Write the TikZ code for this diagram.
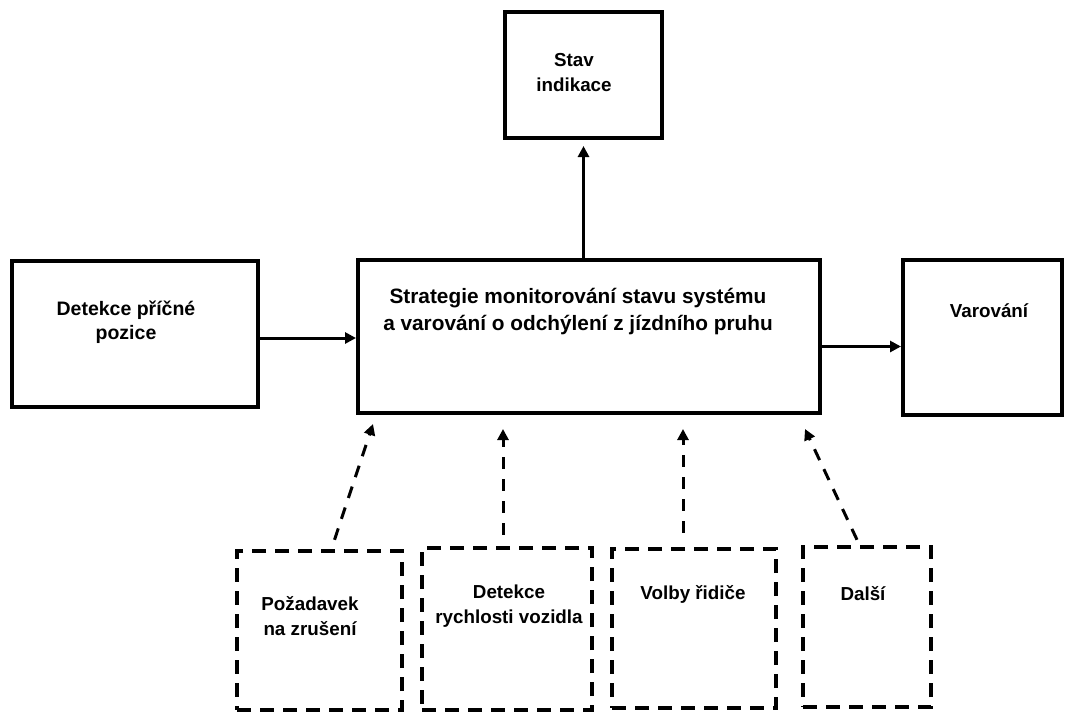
\documentclass[tikz,border=0pt]{standalone}
\usepackage{fontspec}
\setmainfont{Liberation Sans}
\usetikzlibrary{arrows.meta}
\begin{document}
\begin{tikzpicture}[x=1pt,y=-1pt,
  solidbox/.style={draw=black,line width=4pt,rectangle,inner sep=0pt},
  dashbox/.style={draw=black,line width=4.5pt,rectangle,inner sep=0pt,dash pattern=on 14pt off 9pt},
  lbl/.style={font=\bfseries\fontsize{18.8}{25}\selectfont,align=center,inner sep=0pt},
  mainlbl/.style={font=\bfseries\fontsize{20.8}{27}\selectfont,align=center,inner sep=0pt},
  arr/.style={line width=3pt,-{Triangle[length=11pt,width=11pt]}},
  darr/.style={line width=3pt,dash pattern=on 12pt off 10pt,-{Triangle[length=11pt,width=11pt]}}]
\useasboundingbox (0,0) rectangle (1066,713);
% solid boxes
\node[solidbox,minimum width=246pt,minimum height=146pt] (left) at (135,334) {};
\node[solidbox,minimum width=462pt,minimum height=153pt] (main) at (589,336.5) {};
\node[solidbox,minimum width=159pt,minimum height=155pt] (warn) at (982.5,337.5) {};
\node[solidbox,minimum width=157pt,minimum height=126pt] (stav) at (583.5,75) {};
% dashed boxes
\node[dashbox,minimum width=165pt,minimum height=159pt] (b1) at (319.5,630.5) {};
\node[dashbox,minimum width=170pt,minimum height=162pt] (b2) at (507,629) {};
\node[dashbox,minimum width=164pt,minimum height=159pt] (b3) at (694,628.5) {};
\node[dashbox,minimum width=128pt,minimum height=160pt] (b4) at (867,627) {};
% labels
\node[lbl,font=\bfseries\fontsize{19.5}{24}\selectfont] (leftT) at (126,322) {Detekce příčné\\pozice};
\node[mainlbl] (mainT) at (578,312) {Strategie monitorování stavu systému\\a varování o odchýlení z jízdního pruhu};
\node[lbl] (warnT) at (989,311) {Varování};
\node[lbl] (stavT) at (574,73) {Stav\\indikace};
\node[lbl] (b1T) at (310,616) {Požadavek\\na zrušení};
\node[lbl] (b2T) at (509,606) {Detekce\\rychlosti vozidla};
\node[lbl] (b3T) at (693,594) {Volby řidiče};
\node[lbl] (b4T) at (863,594) {Další};
% solid connectors
\draw[arr] ([yshift=-4pt]left.east) -- ([yshift=-4pt]left.east -| main.west);
\draw[arr] ([yshift=-10pt]main.east) -- ([yshift=-10pt]main.east -| warn.west);
\draw[arr] (main.north -| stav.south) -- ([yshift=-6pt]stav.south);
% dashed connectors
\draw[darr] ([xshift=15pt,yshift=9pt]b1.north) -- ([xshift=-216pt,yshift=-9pt]main.south);
\draw[darr] ([xshift=-4pt,yshift=11pt]b2.north) -- ([xshift=-86pt,yshift=-14pt]main.south);
\draw[darr] ([xshift=-11pt,yshift=14pt]b3.north) -- ([xshift=94pt,yshift=-14pt]main.south);
\draw[darr] ([xshift=-10pt,yshift=5pt]b4.north) -- ([xshift=216pt,yshift=-14pt]main.south);
\end{tikzpicture}
\end{document}
